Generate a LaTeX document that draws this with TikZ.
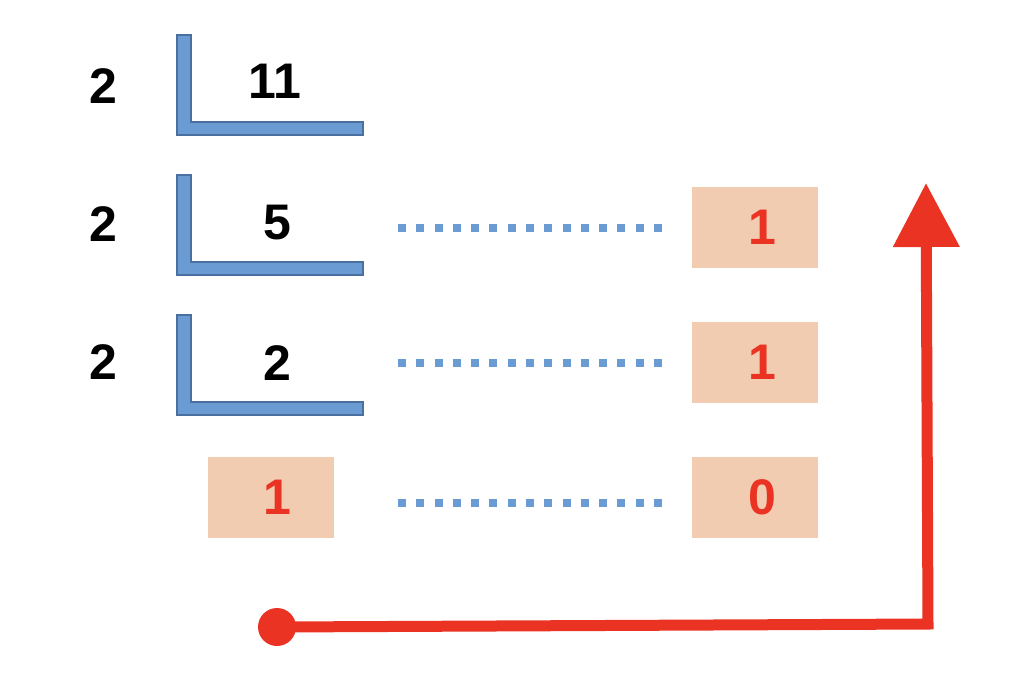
\documentclass[tikz,border=0pt]{standalone}
\usepackage{fontspec}
\setmainfont{Liberation Sans}
\usetikzlibrary{arrows.meta}
\definecolor{lfill}{RGB}{106,155,211}
\definecolor{ldraw}{RGB}{74,112,160}
\definecolor{boxfill}{RGB}{242,204,176}
\definecolor{redc}{RGB}{234,51,35}
\tikzset{
  lshape/.style={fill=lfill,draw=ldraw,line width=1pt},
  num/.style={font=\fontsize{25}{30}\selectfont\bfseries,text=black,inner sep=0pt},
  rbox/.style={fill=boxfill,draw=none,minimum width=63pt,minimum height=40.5pt,inner sep=0pt,
    font=\fontsize{25}{30}\selectfont\bfseries,text=redc},
  dots/.style={draw=lfill,line width=4pt,dash pattern=on 4pt off 5.14pt},
  redline/.style={draw=redc,line width=5.5pt},
}
\begin{document}
\begin{tikzpicture}[x=0.5pt,y=-0.5pt]
\useasboundingbox (0,0) rectangle (1024,676);
% L shapes
\foreach \t in {35,175,315}{
  \draw[lshape] (177,\t) -- (191,\t) -- (191,\t+87) -- (363,\t+87) -- (363,\t+100) -- (177,\t+100) -- cycle;
}
% left divisors
\node[num] (d1) at (103,86) {2};
\node[num] (d2) at (103,224) {2};
\node[num] (d3) at (103,362) {2};
% dividends
\node[num] (n1) at (275,81) {11};
\node[num] (n2) at (277,223) {5};
\node[num] (n3) at (277,363) {2};
% boxes
\node[rbox] (r1) at (755,227.5) {\hspace*{7pt}1};
\node[rbox] (r2) at (755,362) {\hspace*{7pt}1};
\node[rbox] (r3) at (755,497.5) {\hspace*{7pt}0};
\node[rbox] (q) at (270.5,497) {\hspace*{7pt}1};
% dotted lines
\coordinate (s1) at (398,228);
\coordinate (e1) at (662,228);
\coordinate (s2) at (398,363);
\coordinate (e2) at (662,363);
\coordinate (s3) at (398,503);
\coordinate (e3) at (662,503);
\draw[dots] (s1) -- (e1);
\draw[dots] (s2) -- (e2);
\draw[dots] (s3) -- (e3);
% red arrow
\node[circle,fill=redc,minimum size=19pt,inner sep=0pt] (dot) at (277,627) {};
\coordinate (corner) at (928,624);
\coordinate (tip) at (926,183);
\draw[redline,-{Triangle[width=32pt,length=32pt]}] (dot.center) -- (corner) -- (tip);
\end{tikzpicture}
\end{document}
